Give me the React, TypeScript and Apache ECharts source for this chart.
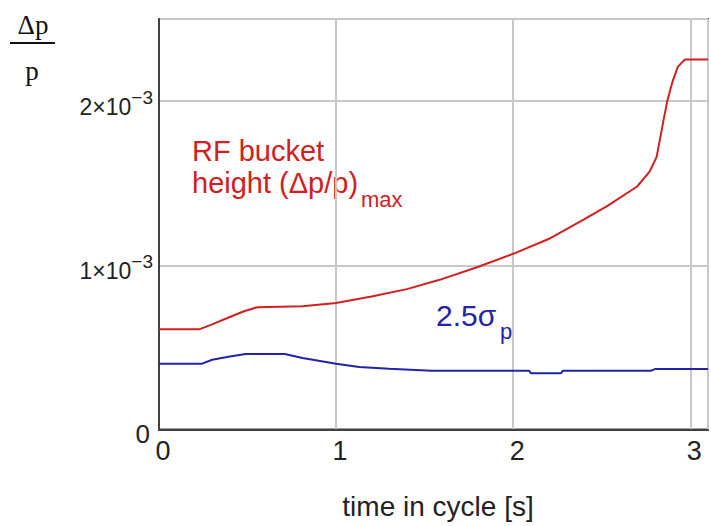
import React, { useEffect, useRef } from "react";
import * as echarts from "echarts";

// time in cycle [s]
const redX = [0, 0.23, 0.3, 0.4, 0.48, 0.556, 0.81, 1.0, 1.2, 1.4, 1.58, 1.8, 2.0, 2.2, 2.4, 2.53, 2.7, 2.77, 2.81, 2.85, 2.87, 2.9, 2.93, 2.97, 3.1];
// RF bucket height (Δp/p)max, units of 1e-3
const redY = [0.611, 0.611, 0.64, 0.685, 0.72, 0.745, 0.75, 0.77, 0.81, 0.855, 0.91, 0.99, 1.07, 1.16, 1.28, 1.36, 1.48, 1.57, 1.66, 1.89, 2.0, 2.12, 2.21, 2.253, 2.253];

const blueX = [0, 0.24, 0.3, 0.4, 0.49, 0.71, 0.81, 1.0, 1.13, 1.3, 1.54, 2.09, 2.1, 2.27, 2.28, 2.78, 2.8, 3.1];
// 2.5 sigma_p, units of 1e-3
const blueY = [0.4, 0.4, 0.425, 0.445, 0.46, 0.46, 0.435, 0.4, 0.38, 0.37, 0.358, 0.358, 0.343, 0.343, 0.358, 0.358, 0.368, 0.368];

const xTickLabels = ["0", "1", "2", "3"];
const yTickLabels = ["0", "1×10", "2×10"];
const yTickExp = "−3";

const RED = "#d02020";
const BLUE = "#2222aa";
const SANS = "'Liberation Sans', Arial, sans-serif";
const SERIF = "'Liberation Serif', 'DejaVu Serif', serif";

export default function App() {
  const ref = useRef<HTMLDivElement>(null);
  useEffect(() => {
    if (!ref.current) return;
    const chart = echarts.init(ref.current, undefined, { renderer: "svg" });
    const red = redX.map((x, i) => [x, redY[i]]);
    const blue = blueX.map((x, i) => [x, blueY[i]]);
    chart.setOption({
      animation: false,
      backgroundColor: "#ffffff",
      grid: {
        left: 159,
        top: 19,
        width: 552,
        height: 410.5,
        show: true,
        borderColor: "#404040",
        borderWidth: 2,
      },
      xAxis: {
        type: "value",
        min: 0,
        max: 3.1,
        interval: 1,
        axisLine: { show: true, lineStyle: { color: "#404040", width: 2 } },
        axisTick: { show: false },
        splitLine: { show: true, lineStyle: { color: "#c8c8c8", width: 2 } },
        axisLabel: {
          margin: 8,
          fontFamily: SANS,
          fontSize: 27,
          color: "#222",
          padding: [0, 0, 0, 8],
          formatter: (v: number) => {
            const i = Math.round(v);
            return Math.abs(v - i) < 1e-6 && xTickLabels[i] !== undefined ? xTickLabels[i] : "";
          },
        },
      },
      yAxis: {
        type: "value",
        min: 0,
        max: 2.5,
        interval: 1,
        axisLine: { show: true, lineStyle: { color: "#404040", width: 2 } },
        axisTick: { show: false },
        splitLine: { show: true, lineStyle: { color: "#c8c8c8", width: 2 } },
        axisLabel: {
          margin: 6,
          color: "#222",
          formatter: (v: number) => {
            const i = Math.round(v);
            if (Math.abs(v - i) > 1e-6 || yTickLabels[i] === undefined) return "";
            if (i === 0) return "{z|" + yTickLabels[0] + "}";
            return "{b|" + yTickLabels[i] + "}{s|" + yTickExp + "}";
          },
          rich: {
            z: { fontFamily: SANS, fontSize: 26, padding: [8, 3, 0, 0], color: "#222" },
            b: { fontFamily: SANS, fontSize: 23, padding: [12, 0, 0, 0], color: "#222" },
            s: { fontFamily: SANS, fontSize: 19, padding: [0, 0, 8, 0], color: "#222" },
          },
        },
      },
      series: [
        {
          type: "line",
          data: red,
          showSymbol: false,
          lineStyle: { color: RED, width: 2 },
          z: 3,
        },
        {
          type: "line",
          data: blue,
          showSymbol: false,
          lineStyle: { color: BLUE, width: 2 },
          z: 3,
        },
      ],
      graphic: [
        { type: "text", x: 33, y: 25, style: { text: "Δp", font: "27px " + SERIF, fill: "#111", align: "center", verticalAlign: "middle" } },
        { type: "line", shape: { x1: 10, y1: 43, x2: 55, y2: 43 }, style: { stroke: "#111", lineWidth: 2 } },
        { type: "text", x: 32, y: 71, style: { text: "p", font: "27px " + SERIF, fill: "#111", align: "center", verticalAlign: "middle" } },
        { type: "text", x: 192, y: 151, style: { text: "RF bucket", font: "29px " + SANS, fill: RED, align: "left", verticalAlign: "middle" } },
        { type: "text", x: 192, y: 183, style: { text: "height (Δp/p)", font: "29px " + SANS, fill: RED, align: "left", verticalAlign: "middle" } },
        { type: "text", x: 361, y: 199, style: { text: "max", font: "22px " + SANS, fill: RED, align: "left", verticalAlign: "middle" } },
        { type: "text", x: 436, y: 315, style: { text: "2.5σ", font: "30px " + SANS, fill: BLUE, align: "left", verticalAlign: "middle" } },
        { type: "text", x: 500, y: 331, style: { text: "p", font: "22px " + SANS, fill: BLUE, align: "left", verticalAlign: "middle" } },
        { type: "text", x: 438, y: 506, style: { text: "time in cycle [s]", font: "28px " + SANS, fill: "#222", align: "center", verticalAlign: "middle" } },
      ],
    });
    return () => chart.dispose();
  }, []);
  return <div ref={ref} style={{ position: "absolute", left: 0, top: 0, width: 711, height: 526 }} />;
}
